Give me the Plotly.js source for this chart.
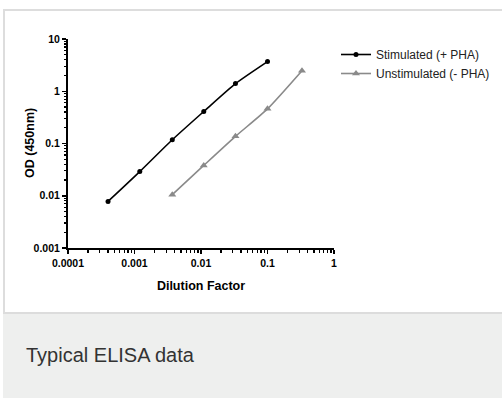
<!DOCTYPE html>
<html>
<head>
<meta charset="utf-8">
<script src="https://cdn.plot.ly/plotly-3.0.1.min.js"></script>
<style>
html,body{margin:0;padding:0;background:#fff;overflow:hidden;width:502px;height:398px;}
#chart{width:502px;height:398px;}
</style>
</head>
<body>
<div id="chart"></div>
<script>
// Data
const seriesNames = ['Stimulated (+ PHA)', 'Unstimulated (- PHA)'];
const stimDilution = [0.0004, 0.0012, 0.0037, 0.011, 0.033, 0.1];
const stimOD = [0.0078, 0.029, 0.118, 0.41, 1.4, 3.7];
const unstimDilution = [0.0037, 0.011, 0.033, 0.1, 0.33];
const unstimOD = [0.0105, 0.038, 0.137, 0.46, 2.47];
const xTitle = 'Dilution Factor';
const yTitle = 'OD (450nm)';
const caption = 'Typical ELISA data';

const W = 502, H = 398;
const M = {l: 68, r: 168, t: 39, b: 150};
const PW = W - M.l - M.r, PH = H - M.t - M.b;
const px = x => (x - M.l) / PW;
const py = y => (H - M.b - y) / PH;

const fontFam = '"Liberation Sans", Arial, sans-serif';
const titleFont = {family: fontFam, size: 12.5, color: '#000', weight: 'bold'};

const traces = [
  {
    x: stimDilution, y: stimOD, name: seriesNames[0],
    mode: 'lines+markers', type: 'scatter',
    line: {color: '#000000', width: 1.6, shape: 'spline', smoothing: 0.6},
    marker: {symbol: 'circle', size: 5, color: '#000000'}
  },
  {
    x: unstimDilution, y: unstimOD, name: seriesNames[1],
    mode: 'lines+markers', type: 'scatter',
    line: {color: '#8a8a8a', width: 1.6, shape: 'spline', smoothing: 0.6},
    marker: {symbol: 'triangle-up', size: 7, color: '#8a8a8a'}
  }
];

const axisCommon = {
  type: 'log',
  showgrid: false, zeroline: false,
  showline: true, linecolor: '#000', linewidth: 2,
  ticks: 'outside', ticklen: 4, tickwidth: 1.5, tickcolor: '#000',
  dtick: 1, tickformat: '~g',
  tickfont: {family: fontFam, size: 10.5, color: '#000', weight: 'bold'},
  minor: {ticks: 'outside', ticklen: 2.5, tickwidth: 1.2, tickcolor: '#000', dtick: 'D1', showgrid: false},
  automargin: false, fixedrange: true
};

const layout = {
  width: W, height: H,
  margin: M,
  paper_bgcolor: '#ffffff', plot_bgcolor: '#ffffff',
  showlegend: true,
  legend: {
    xref: 'container', yref: 'container',
    x: 336 / W, y: 1 - 40 / H, xanchor: 'left', yanchor: 'top',
    font: {family: fontFam, size: 12, color: '#222'},
    bgcolor: 'rgba(0,0,0,0)', tracegroupgap: 0
  },
  xaxis: Object.assign({}, axisCommon, {
    range: [-4, 0],
    title: {text: xTitle, standoff: 14, font: titleFont}
  }),
  yaxis: Object.assign({}, axisCommon, {
    range: [-3, 1]
  }),
  shapes: [
    {type: 'rect', xref: 'paper', yref: 'paper', layer: 'below',
     x0: px(3), x1: px(502), y0: py(312), y1: py(398), fillcolor: '#eeefee', line: {width: 0}},
    {type: 'rect', xref: 'paper', yref: 'paper', layer: 'below',
     x0: px(3), x1: px(502), y0: py(312), y1: py(314), fillcolor: '#dcdcdc', line: {width: 0}},
    {type: 'rect', xref: 'paper', yref: 'paper', layer: 'below',
     x0: px(3), x1: px(5), y0: py(9), y1: py(312), fillcolor: '#dddddd', line: {width: 0}},
    {type: 'rect', xref: 'paper', yref: 'paper', layer: 'below',
     x0: px(3), x1: px(502), y0: py(9), y1: py(11), fillcolor: '#dddddd', line: {width: 0}}
  ],
  annotations: [
    {text: yTitle, xref: 'paper', yref: 'paper', x: px(30), y: py(143),
     xanchor: 'center', yanchor: 'middle', textangle: -90, showarrow: false,
     font: titleFont},
    {text: caption, xref: 'paper', yref: 'paper', x: px(24), y: py(355),
     xanchor: 'left', yanchor: 'middle', showarrow: false,
     font: {family: fontFam, size: 20, color: '#333333'}}
  ]
};

Plotly.newPlot('chart', traces, layout, {displayModeBar: false, staticPlot: true});
</script>
</body>
</html>
